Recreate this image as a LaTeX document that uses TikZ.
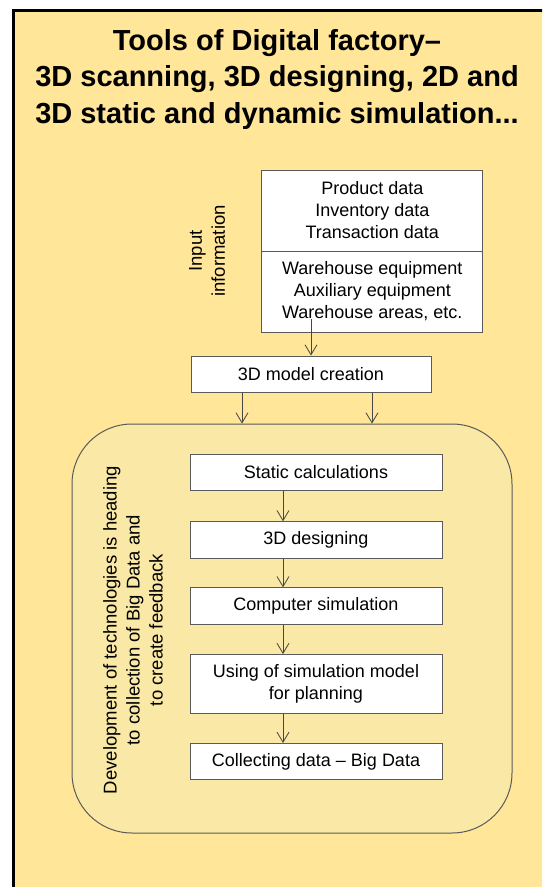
\documentclass[tikz,border=0pt]{standalone}
\usepackage{fontspec}
\setmainfont{Liberation Sans}
\usetikzlibrary{arrows.meta}

\definecolor{sheet}{RGB}{255,230,153}
\definecolor{panel}{RGB}{250,232,166}
\definecolor{edge}{RGB}{90,90,90}
\definecolor{arrowgray}{RGB}{70,70,70}

\tikzset{
  stepbox/.style={draw=edge, fill=white, line width=1pt, inner sep=0pt,
    minimum width=252pt, align=center, font=\fontsize{18}{22}\selectfont},
  databox/.style={stepbox, minimum width=221pt, minimum height=81pt},
  arr/.style={draw=arrowgray, line width=0.8pt, -{Straight Barb[length=10pt,width=12pt]}},
  sidetext/.style={rotate=90, align=center, font=\fontsize{18.5}{23}\selectfont}
}

\begin{document}
\begin{tikzpicture}[x=1pt,y=-1pt]
    \useasboundingbox (0,0) rectangle (542,887);
    \fill[white] (0,0) rectangle (542,887);
    \clip (0,0) rectangle (542,887);

    % Sheet
    \draw[fill=sheet, line width=3pt] (13,10) rectangle (570,910);

    % Title
    \node[align=center, font=\fontsize{29}{36.5}\bfseries\selectfont] (title) at (277,79)
      {Tools of Digital factory--\\3D scanning, 3D designing, 2D and\\3D static and dynamic simulation...};

    % Input information
    \node[databox] (data) at (372.3,210.5) {Product data\\Inventory data\\Transaction data};
    \node[databox] (equip) at (372.3,291.5) {Warehouse equipment\\Auxiliary equipment\\Warehouse areas, etc.};
    \node[sidetext] (input) at (207,251) {Input\\information};

    % 3D model
    \node[stepbox, minimum width=240pt, minimum height=36pt] (model) at (311,374) {3D model creation};
    \coordinate (feed) at (311,319);
    \draw[arr] (feed) -- (model.north);

    % Development panel
    \node[draw=edge, fill=panel, line width=1pt, rounded corners=60pt,
      minimum width=440pt, minimum height=409pt] (dev) at (292,628.5) {};
    \draw[arr] ([xshift=-69pt]model.south) -- ([xshift=-69pt]model.south |- dev.north);
    \draw[arr] ([xshift=61pt]model.south) -- ([xshift=61pt]model.south |- dev.north);
    \node[sidetext] (devtext) at (133,630)
      {Development of technologies is heading\\to collection of Big Data and\\to create feedback};

    % Steps
    \node[stepbox, minimum height=36.5pt] (static) at (316,472.5) {Static calculations};
    \node[stepbox, minimum height=36.5pt] (design) at (316,540) {3D designing};
    \node[stepbox, minimum height=36.5pt] (compsim) at (316,606) {Computer simulation};
    \node[stepbox, minimum height=59pt] (using) at (316,684) {Using of simulation model\\for planning};
    \node[stepbox, minimum height=36.5pt] (collect) at (316,761.7) {Collecting data -- Big Data};

    \foreach \a/\b in {static/design, design/compsim, compsim/using, using/collect}
      \draw[arr] ([xshift=-33pt]\a.south) -- ([xshift=-33pt]\b.north);

\end{tikzpicture}
\end{document}
